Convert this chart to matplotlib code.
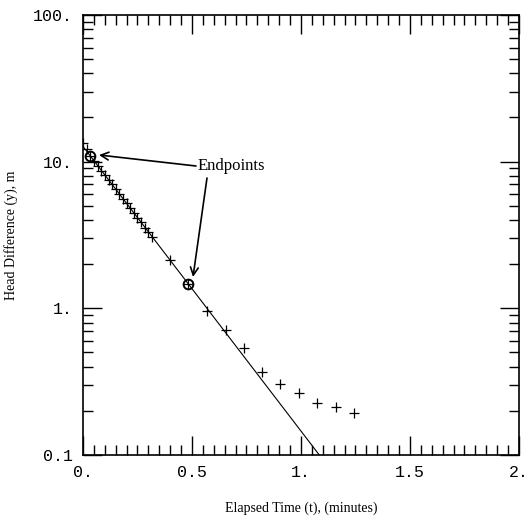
import matplotlib
matplotlib.use("Agg")
import matplotlib.pyplot as plt
from matplotlib.ticker import FixedLocator, MultipleLocator, LogLocator, NullFormatter

# measured head difference, fast part (about 1 s apart) then slower part
t_obs = [0.0, 0.017, 0.033, 0.05, 0.067, 0.083, 0.1, 0.117, 0.133, 0.15,
         0.167, 0.183, 0.2, 0.217, 0.233, 0.25, 0.267, 0.283, 0.3, 0.315,
         0.40, 0.48, 0.57, 0.655, 0.74, 0.82, 0.905, 0.99, 1.075, 1.16, 1.245]
y_obs = [13.5, 12.2, 11.0, 10.1, 9.4, 8.7, 8.1, 7.5, 7.0, 6.5,
         6.0, 5.6, 5.2, 4.8, 4.45, 4.15, 3.85, 3.55, 3.3, 3.05,
         2.13, 1.46, 0.96, 0.715, 0.54, 0.367, 0.305, 0.265, 0.225, 0.214, 0.193]

# the two chosen endpoints and the fitted line
t_end = [0.033, 0.48]
y_end = [11.0, 1.46]
t_fit = [0.0, 1.084]
y_fit = [12.7, 0.1]

xticks = [0, 0.5, 1.0, 1.5, 2.0]
xticklabels = ["0.", "0.5", "1.", "1.5", "2."]
yticks = [0.1, 1, 10, 100]
yticklabels = ["0.1", "1.", "10.", "100."]

fig = plt.figure(figsize=(5.3, 5.22), dpi=100)
ax = fig.add_axes([0.1566, 0.1284, 0.8226, 0.8429])

ax.plot(t_fit, y_fit, color="black", lw=0.8)
ax.plot(t_obs, y_obs, "+", color="black", ms=7, mew=0.9)
ax.plot(t_end, y_end, "o", color="black", mfc="none", ms=7, mew=1.4)

ax.set_yscale("log")
ax.set_xlim(0, 2)
ax.set_ylim(0.1, 100)

ax.xaxis.set_major_locator(FixedLocator(xticks))
ax.set_xticklabels(xticklabels)
ax.xaxis.set_minor_locator(MultipleLocator(0.05))
ax.yaxis.set_major_locator(FixedLocator(yticks))
ax.set_yticklabels(yticklabels)
ax.yaxis.set_minor_locator(LogLocator(base=10, subs=range(2, 10)))
ax.yaxis.set_minor_formatter(NullFormatter())

ax.tick_params(which="both", direction="in", top=True, right=True, color="black")
ax.tick_params(which="major", length=14, width=1.0, pad=7)
ax.tick_params(which="minor", length=7, width=1.0)
for lab in ax.get_xticklabels() + ax.get_yticklabels():
    lab.set_fontfamily("Liberation Mono")
    lab.set_fontsize(12)

for s in ax.spines.values():
    s.set_linewidth(1.2)

ax.set_xlabel("Elapsed Time (t), (minutes)", family="Liberation Serif", fontsize=10, va="center")
ax.set_ylabel("Head Difference (y), m", family="Liberation Serif", fontsize=10, va="center")
ax.xaxis.set_label_coords(0.5, -0.12)
ax.yaxis.set_label_coords(-0.165, 0.5)

# "Endpoints" callout with two arrows
ax.text(198, 356, "Endpoints", transform=None, family="Liberation Serif", fontsize=12,
        ha="left", va="center")
arr = dict(arrowstyle="->", color="black", lw=1.2, mutation_scale=14, shrinkA=0, shrinkB=0)
ax.annotate("", xy=(99, 367), xytext=(196, 356), xycoords="figure pixels",
            textcoords="figure pixels", arrowprops=arr)
ax.annotate("", xy=(193, 245), xytext=(207, 344), xycoords="figure pixels",
            textcoords="figure pixels", arrowprops=arr)

fig.savefig("out.png", dpi=100)
